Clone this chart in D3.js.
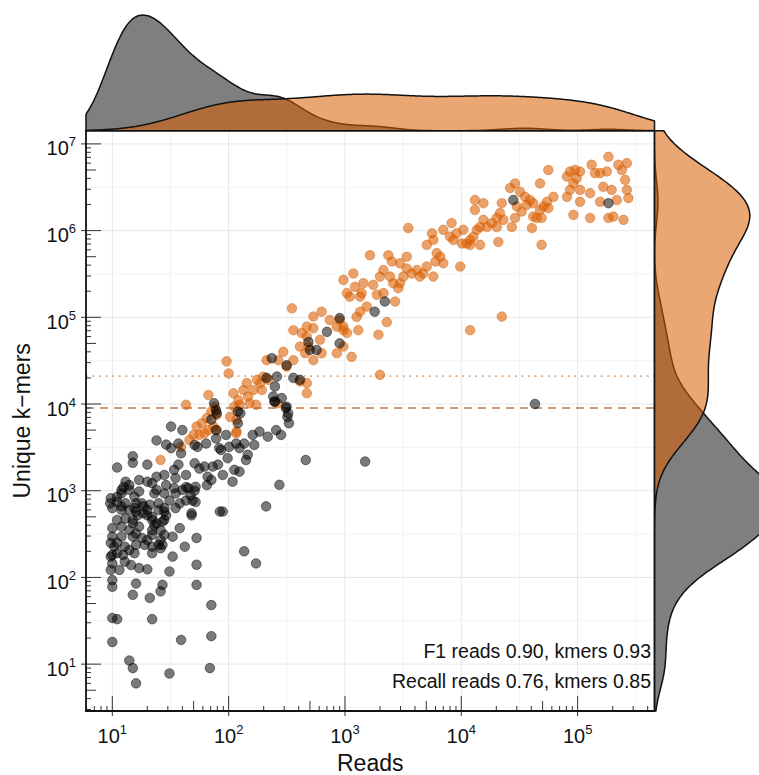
<!DOCTYPE html>
<html lang="en">
<head>
<meta charset="UTF-8">
<title>Reads vs unique k-mers</title>
<script src="https://cdn.jsdelivr.net/npm/d3@7"></script>
<style>
  body { margin: 0; background: #fff; }
  svg { display: block; font-family: "Liberation Sans", Arial, Helvetica, sans-serif; }
</style>
</head>
<body>
<svg width="759" height="775"></svg>
<script>
// [reads, unique k-mers]
const blackPoints = [
  [11,1850],[15,2500],[15,2100],[20,2000],[24,3800],[32,5500],[40,5000],[29,3400],[32,3100],[39,2700],
  [13,1270],[17,1330],[20,1270],[24,1450],[28,1520],[34,1740],[37,2000],[43,1520],[51,2070],[56,1800],
  [62,1900],[73,1900],[81,2000],[89,1520],[108,1270],[71,1330],[98,2370],[112,1740],[124,1660],[141,2260],
  [146,2600],[136,3500],[124,3100],[116,3500],[166,3370],[101,3200],[83,3100],[78,4000],[95,4400],[120,6000],
  [161,4400],[184,4800],[217,4200],[256,5000],[282,4400],[310,9000],[320,7100],[330,6000],[247,10700],[120,8200],
  [78,8500],[75,10200],[71,6600],[78,5000],[64,3500],[54,3200],[51,3370],[86,2950],[273,1170],[460,2260],
  [210,660],[89,575],[84,575],[136,200],[172,145],[48,520],[53,285],[42,226],[33,295],[53,140],
  [31,117],[33,174],[53,82],[71,48],[71,21],[39,19],[69,9],[31,7.8],[16,6],[15,9],
  [14,11],[10,18],[10,34],[11,33],[22,33],[21,58],[15,63],[16,85],[26,69],[27,82],
  [10,93],[10,78],[9.7,122],[10,145],[9.7,174],[11.5,122],[14.5,139],[17,128],[20,124],
  [9.7,820],[11,850],[10,630],[12,660],[13,715],[14,600],[15.5,630],[16.5,520],[18,715],[20,600],
  [22,500],[25,600],[28,630],[29,520],[35,630],[38,715],[43,770],[49,770],[51,1000],[43,1100],
  [40,1020],[34,1070],[28,930],[24,1020],[22,1220],[17,980],[14,1020],[12,1020],[15.5,850],
  [10,370],[10,295],[9.7,250],[10.4,226],[11,250],[12,295],[12,385],[14,350],[15,295],[16,237],
  [14,207],[15.5,190],[11,190],[10,182],[20,270],[22,350],[24,420],[27,440],[25,237],[26,217],
  [22,190],[28,310],[15,420],[17,385],
  [35,1400],[66,1450],[12.5,1100],[14,1160],[29,1160],[45,1070],[52,1110],[65,1160],[12,930],[23,930],
  [35,930],[47,890],[52,740],[9.6,715],[11,740],[16,715],[18.5,660],[21,690],[25,715],
  [31,770],[12,600],[16,575],[18.5,550],[20,520],[28,575],[48,550],[11,460],
  [13,480],[15,460],[22,460],[28,460],[16,320],[23,400],[26,350],[38,370],
  [18,285],[22,310],[26,270],[12.8,226],[19,237],[22,226],[27,237],
  [12.4,182],[12.8,152],
  [2200,152000],[1800,116000],[900,98000],[700,68000],[900,50000],[485,52000],[500,42000],[570,42000],
  [235,33700],[315,28000],[260,20700],[212,20000],[360,20000],[410,19000],[250,15900],[242,12200],
  [286,11700],[250,10600],[315,9300],[325,7800],[79,7800],[126,7800],[37,3500],[1490,2170],
  [43000,10000],[28000,2250000],[184000,2070000]
];

const orangePoints = [
  [184000,7100000],[224000,5750000],[265000,6000000],[240000,5000000],[256000,3850000],[265000,2950000],
  [273000,2370000],[248000,1330000],[203000,1450000],[184000,1400000],[217000,2250000],[196000,2950000],
  [166000,3200000],[156000,4600000],[141000,4600000],[178000,4800000],[132000,5750000],[156000,2150000],
  [128000,2700000],[105000,2950000],[105000,2150000],[92000,1520000],[128000,1400000],[86000,4800000],
  [95000,5000000],[105000,4800000],[81000,4200000],[92000,3500000],[86000,2950000],[81000,2450000],
  [98000,4000000],[56000,5000000],[47500,3500000],[62000,2450000],[54500,2150000],[56000,1820000],
  [51000,1900000],[47500,1730000],[44500,1400000],[41500,1450000],[49000,1400000],[40500,1070000],
  [49000,685000],[29000,3500000],[26300,3100000],[32000,2800000],[35300,2450000],[39000,2250000],
  [41500,2070000],[36500,1980000],[30000,1900000],[33000,1660000],[29000,1400000],[27200,1100000],
  [23000,1330000],[22300,2070000],[21500,1590000],[20200,1400000],[13100,2250000],[15500,2070000],
  [13100,1730000],[15500,1330000],[14500,1100000],[16600,1100000],[18300,1220000],[20200,1100000],
  [13600,1020000],[12700,850000],[11900,780000],[11100,710000],[10100,710000],[10400,1020000],
  [9100,930000],[8550,780000],[8000,850000],[20800,740000],[14500,685000],[11900,685000],
  [8250,1220000],[7000,1020000],[5600,930000],[5750,780000],[5050,685000],[3500,1070000],
  [6150,550000],[6600,500000],[7000,420000],[6000,440000],[5050,385000],[4700,320000],
  [4400,295000],[4150,350000],[3750,320000],[3400,365000],[3400,500000],[2970,420000],
  [2970,247000],[2870,217000],[2600,247000],[2440,295000],[2360,520000],[2530,440000],
  [2140,350000],[2000,295000],[1750,237000],[1640,520000],[1440,247000],[1390,190000],
  [1180,320000],[1220,225000],[1100,173000],[1040,190000],[970,270000],[1350,116000],
  [1260,101000],[2290,88000],[1940,63000],[1300,71000],[970,78000],[1040,66000],
  [1140,35000],[2700,152000],[5750,295000],[9800,385000],[22300,102000],[11900,71000],[2000,21700],
  [3180,295000],[1350,173000],[1540,133000],[1880,182000],[2140,190000],
  [350,127000],[630,116000],[535,102000],[740,93000],[850,78000],[970,71000],[900,93000],
  [360,71000],[425,66000],[470,78000],[535,75000],[610,55000],[485,46000],[410,46000],[455,38500],
  [535,32000],[630,38500],[850,38500],[970,46000],[470,60000],[295,40000],[267,32000],[212,32000],
  [315,27000],[360,32000],[96,31000],[100,22500],[143,17400],[175,19000],[187,17400],[193,14500],
  [163,14500],[134,14500],[147,12200],[121,11100],[110,13300],[220,19000],[199,20700],[470,17400],
  [470,13300],[410,18200],[67,12700],[43,9800],[76,9300],[71,8200],[79,7500],[65,6900],
  [59,6000],[53,5500],[50,4400],[46,3850],[56,4400],[67,5000],[74,5500],[79,5000],
  [103,7100],[117,6600],[117,4800],[26,2260],
  [39,3200],[62,4600],[112,9300],[124,9800],[116,4600],[151,10200],[172,9800],[264,10200]
];

const xDomain = [5.94, 458000];
const yDomain = [2.88, 14200000];
const xTickExps = [1, 2, 3, 4, 5];
const yTickExps = [1, 2, 3, 4, 5, 6, 7];
const dashedLevel = 9000;
const dottedLevel = 21000;
const notes = ["F1 reads 0.90, kmers 0.93", "Recall reads 0.76, kmers 0.85"];

const orange = "#d95f02";
const svg = d3.select("svg");
const P = {left: 86, right: 654.5, top: 130.7, bottom: 711};

const x = d3.scaleLog().domain(xDomain).range([P.left, P.right]);
const y = d3.scaleLog().domain(yDomain).range([P.bottom, P.top]);
const lx = Math.log10;

// grid: major at decades, minor half way (log space)
const grid = svg.append("g");
const lxd = xDomain.map(lx), lyd = yDomain.map(lx);
d3.range(Math.ceil(lxd[0] * 2) / 2, lxd[1], 0.5).forEach(e => {
  grid.append("line").attr("x1", x(10 ** e)).attr("x2", x(10 ** e))
    .attr("y1", P.top).attr("y2", P.bottom)
    .attr("stroke", e % 1 === 0 ? "#e6e6e6" : "#f3f3f3").attr("stroke-width", 1);
});
d3.range(Math.ceil(lyd[0] * 2) / 2, lyd[1], 0.5).forEach(e => {
  grid.append("line").attr("y1", y(10 ** e)).attr("y2", y(10 ** e))
    .attr("x1", P.left).attr("x2", P.right)
    .attr("stroke", e % 1 === 0 ? "#e6e6e6" : "#f3f3f3").attr("stroke-width", 1);
});

// threshold lines
svg.append("line").attr("x1", P.left).attr("x2", P.right)
  .attr("y1", y(dottedLevel)).attr("y2", y(dottedLevel))
  .attr("stroke", "#dd9a63").attr("stroke-width", 1.6).attr("stroke-dasharray", "1.6,5");
svg.append("line").attr("x1", P.left).attr("x2", P.right)
  .attr("y1", y(dashedLevel)).attr("y2", y(dashedLevel))
  .attr("stroke", "#bf7a4a").attr("stroke-width", 1.7).attr("stroke-dasharray", "8,6");

// points
svg.append("g").selectAll("circle").data(orangePoints).join("circle")
  .attr("cx", d => x(d[0])).attr("cy", d => y(d[1])).attr("r", 4.8)
  .attr("fill", orange).attr("fill-opacity", 0.58)
  .attr("stroke", orange).attr("stroke-opacity", 0.45).attr("stroke-width", 1);
svg.append("g").selectAll("circle").data(blackPoints).join("circle")
  .attr("cx", d => x(d[0])).attr("cy", d => y(d[1])).attr("r", 4.8)
  .attr("fill", "#000").attr("fill-opacity", 0.52)
  .attr("stroke", "#000").attr("stroke-opacity", 0.45).attr("stroke-width", 1);

// annotation
svg.append("g").selectAll("text").data(notes).join("text")
  .attr("x", 651).attr("y", (d, i) => 658 + i * 29.5)
  .attr("text-anchor", "end").attr("font-size", 19.5).attr("fill", "#111")
  .text(d => d);

// log ticks inside the panel + short outer ticks at decades
const ticks = svg.append("g").attr("stroke", "#333").attr("stroke-width", 1);
function tickLen(k) { return k === 1 ? 15 : k === 5 ? 10 : 5; }
for (let e = 0; e <= 7; e++) {
  for (let k = 1; k <= 9; k++) {
    const v = k * 10 ** e;
    if (v >= xDomain[0] && v <= xDomain[1]) {
      ticks.append("line").attr("x1", x(v)).attr("x2", x(v))
        .attr("y1", P.bottom).attr("y2", P.bottom - tickLen(k));
    }
    if (v >= yDomain[0] && v <= yDomain[1]) {
      ticks.append("line").attr("y1", y(v)).attr("y2", y(v))
        .attr("x1", P.left).attr("x2", P.left + tickLen(k));
    }
  }
}
xTickExps.forEach(e => ticks.append("line").attr("x1", x(10 ** e)).attr("x2", x(10 ** e))
  .attr("y1", P.bottom).attr("y2", P.bottom + 5));
yTickExps.forEach(e => ticks.append("line").attr("y1", y(10 ** e)).attr("y2", y(10 ** e))
  .attr("x1", P.left).attr("x2", P.left - 5));

// axis lines
svg.append("line").attr("x1", P.left).attr("x2", P.left).attr("y1", P.top).attr("y2", P.bottom + 0.8)
  .attr("stroke", "#111").attr("stroke-width", 1.8);
svg.append("line").attr("x1", P.left - 0.8).attr("x2", P.right).attr("y1", P.bottom).attr("y2", P.bottom)
  .attr("stroke", "#111").attr("stroke-width", 1.8);

// tick labels 10^n
function powLabel(sel) {
  sel.append("tspan").text("10");
  sel.append("tspan").attr("font-size", 13).attr("dy", -9).text(d => d);
}
svg.append("g").selectAll("text").data(xTickExps).join("text")
  .attr("x", d => x(10 ** d)).attr("y", 743).attr("text-anchor", "middle")
  .attr("font-size", 20).attr("fill", "#111").call(powLabel);
svg.append("g").selectAll("text").data(yTickExps).join("text")
  .attr("x", 76).attr("y", d => y(10 ** d) + 11.5).attr("text-anchor", "end")
  .attr("font-size", 20).attr("fill", "#111").call(powLabel);

// axis titles
svg.append("text").attr("x", (P.left + P.right) / 2).attr("y", 771)
  .attr("text-anchor", "middle").attr("font-size", 23).attr("fill", "#111").text("Reads");
svg.append("text").attr("transform", `translate(30,${(P.top + P.bottom) / 2}) rotate(-90)`)
  .attr("text-anchor", "middle").attr("font-size", 23).attr("fill", "#111").text("Unique k\u2212mers");

// marginal densities (gaussian kde on log10 values, nrd0 bandwidth)
function kde(values, lo, hi) {
  const v = values.slice().sort(d3.ascending);
  const iqr = d3.quantile(v, 0.75) - d3.quantile(v, 0.25);
  const bw = 0.9 * Math.min(d3.deviation(v), iqr / 1.34) * Math.pow(v.length, -0.2);
  return d3.range(0, 301).map(i => {
    const g = lo + (hi - lo) * i / 300;
    return [g, d3.mean(v, t => Math.exp(-0.5 * ((g - t) / bw) ** 2)) / (bw * Math.sqrt(2 * Math.PI))];
  });
}
const groups = [
  {pts: blackPoints, fill: "#000", alpha: 0.5},
  {pts: orangePoints, fill: orange, alpha: 0.55}
];
groups.forEach(g => {
  g.top = kde(g.pts.map(d => lx(d[0])), lxd[0], lxd[1]);
  g.side = kde(g.pts.map(d => lx(d[1])), lyd[0], lyd[1]);
});
const topScale = d3.scaleLinear()
  .domain([0, d3.max(groups, g => d3.max(g.top, d => d[1]))]).range([P.top, 15]);
// the side panel runs past the page edge, so its tallest peak is cut off
const sideScale = d3.scaleLinear()
  .domain([0, d3.max(groups, g => d3.max(g.side, d => d[1]))]).range([P.right, 782]);

const topArea = d3.area().curve(d3.curveBasis)
  .x(d => x(10 ** d[0])).y0(P.top).y1(d => topScale(d[1]));
const sideArea = d3.area().curve(d3.curveBasis)
  .y(d => y(10 ** d[0])).x0(P.right).x1(d => sideScale(d[1]));

groups.forEach(g => {
  svg.append("path").attr("d", topArea(g.top) + "Z")
    .attr("fill", g.fill).attr("fill-opacity", g.alpha)
    .attr("stroke", "#111").attr("stroke-width", 1.5).attr("stroke-linejoin", "round");
  svg.append("path").attr("d", sideArea(g.side) + "Z")
    .attr("fill", g.fill).attr("fill-opacity", g.alpha)
    .attr("stroke", "#111").attr("stroke-width", 1.5).attr("stroke-linejoin", "round");
});
</script>
</body>
</html>
